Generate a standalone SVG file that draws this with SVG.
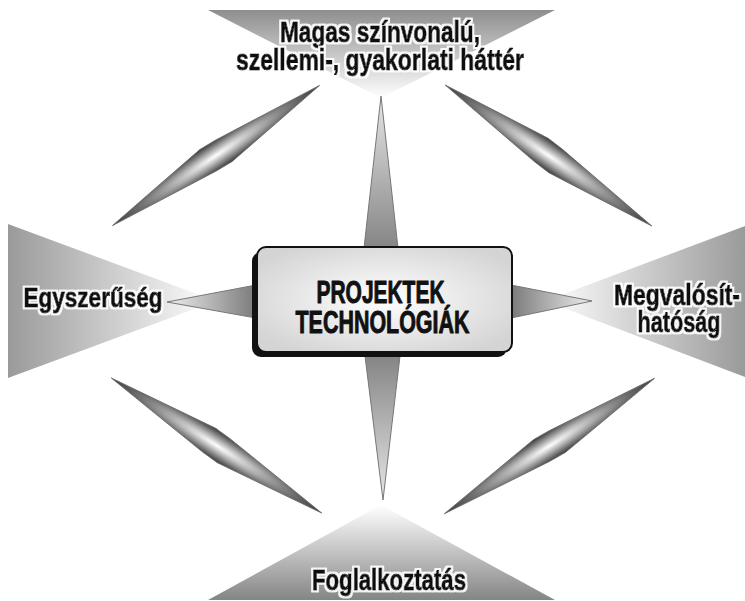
<svg xmlns="http://www.w3.org/2000/svg" width="745" height="601" viewBox="0 0 745 601">
<defs>
  <linearGradient id="gTop" x1="0" y1="10" x2="0" y2="98" gradientUnits="userSpaceOnUse">
    <stop offset="0" stop-color="#8e8e8e"/>
    <stop offset="1" stop-color="#ffffff"/>
  </linearGradient>
  <linearGradient id="gBot" x1="0" y1="600" x2="0" y2="505" gradientUnits="userSpaceOnUse">
    <stop offset="0" stop-color="#858585"/>
    <stop offset="1" stop-color="#ffffff"/>
  </linearGradient>
  <linearGradient id="gLeft" x1="8" y1="0" x2="216" y2="0" gradientUnits="userSpaceOnUse">
    <stop offset="0" stop-color="#9a9a9a"/>
    <stop offset="1" stop-color="#ffffff"/>
  </linearGradient>
  <linearGradient id="gRight" x1="745" y1="0" x2="545" y2="0" gradientUnits="userSpaceOnUse">
    <stop offset="0" stop-color="#9a9a9a"/>
    <stop offset="1" stop-color="#ffffff"/>
  </linearGradient>
  <radialGradient id="gDia" cx="0.5" cy="0.5" r="0.5">
    <stop offset="0" stop-color="#ffffff"/>
    <stop offset="0.45" stop-color="#a8a8a8"/>
    <stop offset="1" stop-color="#3a3a3a"/>
  </radialGradient>
  <linearGradient id="gSpikeV" x1="0" y1="0" x2="0" y2="1">
    <stop offset="0" stop-color="#e6e6e6"/>
    <stop offset="1" stop-color="#858585"/>
  </linearGradient>
  <linearGradient id="gSpikeD" x1="0" y1="0" x2="0" y2="1">
    <stop offset="0" stop-color="#858585"/>
    <stop offset="1" stop-color="#e6e6e6"/>
  </linearGradient>
  <linearGradient id="gSpikeL" x1="0" y1="0" x2="1" y2="0">
    <stop offset="0" stop-color="#eeeeee"/>
    <stop offset="1" stop-color="#7a7a7a"/>
  </linearGradient>
  <linearGradient id="gSpikeR" x1="0" y1="0" x2="1" y2="0">
    <stop offset="0" stop-color="#7a7a7a"/>
    <stop offset="1" stop-color="#eeeeee"/>
  </linearGradient>
  <radialGradient id="gBox" cx="0.5" cy="0.5" r="0.6">
    <stop offset="0" stop-color="#ffffff"/>
    <stop offset="1" stop-color="#d4d4d4"/>
  </radialGradient>
  <filter id="halo" x="-10%" y="-30%" width="120%" height="160%">
    <feMorphology in="SourceAlpha" operator="dilate" radius="2" result="big"/>
    <feFlood flood-color="#ffffff" flood-opacity="0.9"/>
    <feComposite in2="big" operator="in" result="glow"/>
    <feMerge>
      <feMergeNode in="glow"/>
      <feMergeNode in="SourceGraphic"/>
    </feMerge>
  </filter>
  <polygon id="dia" points="-125,0 -10,-14 8,-13 125,0 10,14 -8,13"/>
</defs>
<style>
  .lbl { font-family: "Liberation Sans Narrow", "Liberation Sans", Arial, sans-serif; font-weight: bold; fill: #111; stroke: #111; stroke-width: 1; stroke-linejoin: round; text-anchor: middle; }
  .halo { filter: url(#halo); }
  .spike { stroke: #777; stroke-width: 1; }
  .diam { fill: url(#gDia); stroke: #6a6a6a; stroke-width: 0.8; }
</style>

<g id="node-top">
  <polygon points="208,10 555,10 381,98" fill="url(#gTop)"/>
  <text class="lbl halo" x="380" y="42" font-size="30" textLength="200" lengthAdjust="spacingAndGlyphs">Magas színvonalú,</text>
  <text class="lbl halo" x="380" y="70" font-size="30" textLength="288" lengthAdjust="spacingAndGlyphs">szellemi-, gyakorlati háttér</text>
</g>
<g id="node-left">
  <polygon points="8,224 8,378 216,301" fill="url(#gLeft)"/>
  <text class="lbl halo" x="93" y="307" font-size="28" textLength="139" lengthAdjust="spacingAndGlyphs">Egyszerűség</text>
</g>
<g id="node-right">
  <polygon points="745,226 745,377 545,301" fill="url(#gRight)"/>
  <text class="lbl halo" x="677" y="305" font-size="30" textLength="126" lengthAdjust="spacingAndGlyphs">Megvalósít-</text>
  <text class="lbl halo" x="679" y="332" font-size="30" textLength="83" lengthAdjust="spacingAndGlyphs">hatóság</text>
</g>
<g id="node-bottom">
  <polygon points="208,600 555,600 381,505" fill="url(#gBot)"/>
  <text class="lbl halo" x="389" y="590" font-size="30" textLength="154" lengthAdjust="spacingAndGlyphs">Foglalkoztatás</text>
</g>

<g id="connectors">
  <use href="#dia" class="diam" transform="translate(216,155.5) rotate(-34.1)"/>
  <use href="#dia" class="diam" transform="translate(548.5,155.5) rotate(34.3)"/>
  <use href="#dia" class="diam" transform="translate(216.5,445.5) rotate(32.7)"/>
  <use href="#dia" class="diam" transform="translate(549.5,446) rotate(-32.8)"/>
  <polygon class="spike" points="364,248 398,248 381,96" fill="url(#gSpikeV)"/>
  <polygon class="spike" points="365,356 400,356 383,500" fill="url(#gSpikeD)"/>
  <polygon class="spike" points="256,285 256,318 167,302" fill="url(#gSpikeL)"/>
  <polygon class="spike" points="511,285 511,318 592,301" fill="url(#gSpikeR)"/>
</g>

<g id="node-center">
  <rect x="252" y="252" width="255" height="105" rx="9" fill="#111"/>
  <rect x="257" y="247" width="255" height="105" rx="9" fill="url(#gBox)" stroke="#111" stroke-width="2"/>
  <text class="lbl" x="380.5" y="303" font-size="32" textLength="128" lengthAdjust="spacingAndGlyphs">PROJEKTEK</text>
  <text class="lbl" x="382.5" y="333" font-size="32" textLength="174" lengthAdjust="spacingAndGlyphs">TECHNOLÓGIÁK</text>
</g>
</svg>
